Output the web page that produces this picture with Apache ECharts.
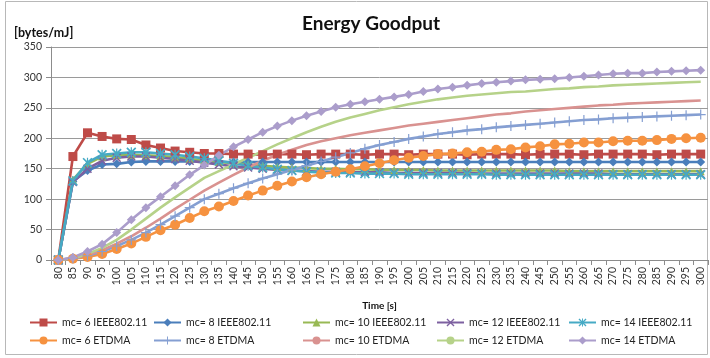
<!DOCTYPE html>
<html>
<head>
<meta charset="utf-8">
<script src="https://cdn.jsdelivr.net/npm/echarts@6/dist/echarts.min.js"></script>
<style>
  html, body { margin: 0; padding: 0; background: #fff; }
  #chart { width: 710px; height: 358px; }
</style>
</head>
<body>
<div id="chart"></div>
<script>
// Time axis (seconds)
const categories = ['80','85','90','95','100','105','110','115','120','125','130','135','140','145','150','155','160','165','170','175','180','185','190','195','200','205','210','215','220','225','230','235','240','245','250','255','260','265','270','275','280','285','290','295','300'];

// Energy goodput [bytes/mJ], IEEE802.11
const ieee6 = [0,170,209,203,199,198,189,184,179,177, 175,175,174,174,173,174,174,173,174,174, 174,173,174,174,173,174,174,174,173,174, 174,174,173,174,174,174,173,174,174,174, 174,173,174,174,174];
const ieee8 = [0,129,147,157,158,161,162,162,162,162, 162,161,161,161,161,161,161,161,161,161, 161,161,161,161,161,161,161,161,161,161, 161,161,161,161,161,161,161,161,161,161, 161,161,161,161,161];
const ieee10 = [0,132,158,170,172,173,172,171,169,166, 164,161,159,157,155,153,152,151,150,150, 149,149,148,148,148,148,147,147,147,147, 147,147,147,147,147,146,146,146,146,146, 146,146,146,146,146];
const ieee12 = [0,128,150,163,168,170,170,168,166,163, 160,157,154,152,150,148,147,146,145,145, 144,144,144,143,143,143,143,143,143,142, 142,142,142,142,142,142,142,142,141,141, 141,141,141,141,141];
const ieee14 = [0,130,160,173,175,177,177,175,173,170, 167,163,159,155,152,149,147,145,144,143, 143,142,142,142,141,141,141,141,141,141, 140,140,140,140,140,140,140,140,140,140, 140,140,140,140,140];

// Energy goodput [bytes/mJ], ETDMA
const etdma6 = [0,2,5,10,18,27,38,49,58,69, 80,88,97,106,114,122,129,136,141,145, 149,154,159,164,168,171,174,175,177,178, 181,182,185,187,190,191,193,193,195,196, 196,197,199,200,201];
const etdma8 = [0,3,7,14,23,33,45,58,72,86, 100,109,118,126,134,141,148,155,162,169, 176,183,189,194,199,203,207,210,213,215, 218,220,222,224,226,228,230,231,233,234, 235,236,237,238,239];
const etdma10 = [0,3,8,16,27,39,53,68,84,99, 114,127,140,152,163,173,181,189,195,200, 205,209,213,217,221,224,227,230,233,236, 239,241,244,246,248,250,252,254,255,257, 258,259,260,261,262];
const etdma12 = [0,3,10,20,33,50,68,86,103,119, 135,146,157,168,179,190,200,210,219,227, 234,240,246,251,256,260,264,267,270,272, 274,276,277,279,281,282,284,285,287,288, 289,290,291,292,293];
const etdma14 = [0,4,14,26,45,66,86,104,122,140, 156,172,186,198,210,220,229,237,244,251, 256,260,264,268,272,277,281,284,287,290, 292,294,296,297,298,300,302,304,306,307, 307,309,310,311,312];

const yTicks = { min: 0, max: 350, interval: 50 };

// Marker shapes
const SYM_X = 'path://M0,1.2 L1.2,0 L10,8.8 L8.8,10 Z M8.8,0 L10,1.2 L1.2,10 L0,8.8 Z';
const SYM_STAR = 'path://M0,1.2 L1.2,0 L10,8.8 L8.8,10 Z M8.8,0 L10,1.2 L1.2,10 L0,8.8 Z M4.4,0 L5.6,0 L5.6,10 L4.4,10 Z';
const SYM_PLUS = 'path://M4.4,0 L5.6,0 L5.6,10 L4.4,10 Z M0,4.4 L10,4.4 L10,5.6 L0,5.6 Z';

const FONT = 'Lato, "Open Sans", sans-serif';

const seriesDefs = [
  { name: 'mc= 6 IEEE802.11', data: ieee6, color: '#BE4B48', symbol: 'rect', size: 9 },
  { name: 'mc= 8 IEEE802.11', data: ieee8, color: '#4A7EBB', symbol: 'diamond', size: 9 },
  { name: 'mc= 10 IEEE802.11', data: ieee10, color: '#98B954', symbol: 'triangle', size: 8 },
  { name: 'mc= 12 IEEE802.11', data: ieee12, color: '#7D60A0', symbol: SYM_X, size: 9 },
  { name: 'mc= 14 IEEE802.11', data: ieee14, color: '#46AAC5', symbol: SYM_STAR, size: 10 },
  { name: 'mc= 6 ETDMA', data: etdma6, color: '#F69240', symbol: 'circle', size: 10 },
  { name: 'mc= 8 ETDMA', data: etdma8, color: '#859FD2', symbol: SYM_PLUS, size: 10 },
  { name: 'mc= 10 ETDMA', data: etdma10, color: '#D99290', symbol: 'none', size: 0 },
  { name: 'mc= 12 ETDMA', data: etdma12, color: '#B6D289', symbol: 'none', size: 0 },
  { name: 'mc= 14 ETDMA', data: etdma14, color: '#AB9DCB', symbol: 'diamond', size: 9 }
];

const series = seriesDefs.map(d => ({
  name: d.name,
  type: 'line',
  data: d.data,
  symbol: d.symbol,
  symbolSize: d.size,
  showSymbol: d.symbol !== 'none',
  color: d.color,
  lineStyle: { color: d.color, width: 2.6 },
  itemStyle: { color: d.color },
  emphasis: { disabled: true }
}));

// Legend laid out as five columns of two entries
const legendCols = [24, 148, 297, 431, 563];
const legends = legendCols.map((left, c) => ({
  left: left,
  top: 312,
  orient: 'vertical',
  itemWidth: 27,
  itemHeight: 10,
  itemGap: 7,
  textStyle: { fontFamily: FONT, fontSize: 10.5, color: '#222' },
  data: [seriesDefs[c].name, seriesDefs[c + 5].name]
}));

const chart = echarts.init(document.getElementById('chart'), null, { renderer: 'canvas' });
chart.setOption({
  animation: false,
  backgroundColor: '#fff',
  title: [
    { text: 'Energy Goodput', left: 297, top: 9,
      textStyle: { fontFamily: FONT, fontSize: 19, fontWeight: 'bold', color: '#111' } },
    { text: '[bytes/mJ]', left: 9, top: 21,
      textStyle: { fontFamily: FONT, fontSize: 12.5, fontWeight: 'bold', color: '#111' } }
  ],
  legend: legends,
  grid: { left: 51, right: 2, top: 47, bottom: 98 },
  xAxis: {
    type: 'category',
    data: categories,
    boundaryGap: true,
    name: 'Time [s]',
    nameLocation: 'middle',
    nameGap: 41,
    nameTextStyle: { fontFamily: FONT, fontSize: 10, fontWeight: 'bold', color: '#111' },
    axisLine: { lineStyle: { color: '#8c8c8c', width: 1 } },
    axisTick: { show: true, length: 5, interval: 0, lineStyle: { color: '#8c8c8c' } },
    axisLabel: { interval: 0, rotate: 90, fontFamily: FONT, fontSize: 10.5, color: '#333', margin: 7 },
    splitLine: { show: false }
  },
  yAxis: {
    type: 'value',
    min: yTicks.min,
    max: yTicks.max,
    interval: yTicks.interval,
    axisLine: { show: true, lineStyle: { color: '#8c8c8c', width: 1 } },
    axisTick: { show: true, length: 5, lineStyle: { color: '#8c8c8c' } },
    axisLabel: { fontFamily: FONT, fontSize: 10.5, color: '#333', margin: 9 },
    splitLine: { show: true, lineStyle: { color: '#9a9a9a', width: 1 } }
  },
  graphic: [
    { type: 'rect', silent: true, z: -1,
      shape: { x: 5.5, y: 1.5, width: 702, height: 353 },
      style: { fill: 'none', stroke: '#b8b8b8', lineWidth: 1 } }
  ],
  series: series
});
</script>
</body>
</html>
